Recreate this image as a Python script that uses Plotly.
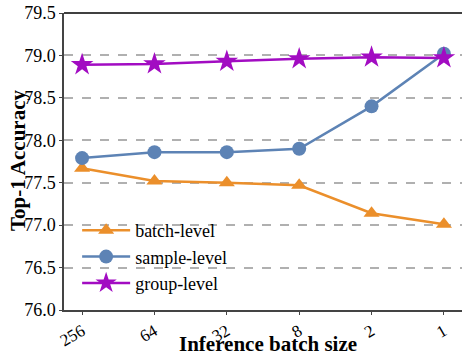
import plotly.graph_objects as go

batch_sizes = ["256", "64", "32", "8", "2", "1"]
batch_level = [77.67, 77.52, 77.50, 77.47, 77.14, 77.01]
sample_level = [77.79, 77.86, 77.86, 77.90, 78.40, 79.02]
group_level = [78.89, 78.90, 78.93, 78.96, 78.98, 78.97]

xs = list(range(len(batch_sizes)))
FONT = "Liberation Serif"

fig = go.Figure()
fig.add_trace(go.Scatter(x=xs, y=batch_level, name="batch-level", mode="lines+markers",
                         line=dict(color="#EB8F2B", width=2.5),
                         marker=dict(symbol="triangle-up", size=14, color="#EB8F2B")))
fig.add_trace(go.Scatter(x=xs, y=sample_level, name="sample-level", mode="lines+markers",
                         line=dict(color="#5D83B5", width=2.5),
                         marker=dict(symbol="circle", size=14, color="#5D83B5")))
fig.add_trace(go.Scatter(x=xs, y=group_level, name="group-level", mode="lines+markers",
                         line=dict(color="#A20CC2", width=2.5),
                         marker=dict(symbol="star", size=17, color="#A20CC2")))

W, H = 462, 358
L, R, T, B = 64, 0, 13, 48
ph = H - T - B

fig.update_layout(
    width=W, height=H,
    margin=dict(l=L, r=R, t=T, b=B, autoexpand=False),
    plot_bgcolor="white", paper_bgcolor="white",
    font=dict(family=FONT, size=17, color="black"),
    showlegend=True,
    legend=dict(x=0.033, y=0.33, xanchor="left", yanchor="top",
                bgcolor="rgba(0,0,0,0)", font=dict(size=18, family=FONT),
                itemwidth=48, tracegroupgap=0),
    xaxis=dict(
        tickmode="array", tickvals=xs, ticktext=batch_sizes,
        range=[-0.25, 5.25], showgrid=False, zeroline=False,
        showline=True, linecolor="#444", linewidth=1.5,
        ticks="outside", ticklen=3, tickcolor="#444",
        tickangle=-30, tickfont=dict(size=17, family=FONT), automargin=False,
    ),
    yaxis=dict(
        range=[76.0, 79.5], dtick=0.5, tickformat=".1f",
        showgrid=True, gridcolor="#b0b0b0", griddash="dash", gridwidth=1.5,
        zeroline=False, showline=True, linecolor="#444", linewidth=1.5,
        ticks="outside", ticklen=3, tickcolor="#444",
        tickfont=dict(size=18, family=FONT), automargin=False,
    ),
    annotations=[
        dict(text="<b>Inference batch size</b>", xref="paper", yref="paper",
             x=(268 - L) / (W - L - R), y=-(357 - (H - B)) / ph, xanchor="center", yanchor="bottom",
             showarrow=False, font=dict(size=21, family=FONT), borderpad=0),
        dict(text="<b>Top-1 Accuracy</b>", xref="paper", yref="paper",
             x=-(L - 18) / (W - L - R), y=(H - B - 161) / ph, xanchor="center", yanchor="middle",
             textangle=-90, showarrow=False, font=dict(size=21, family=FONT)),
    ],
)
fig.add_shape(type="line", xref="paper", yref="paper", x0=0, x1=1, y0=1, y1=1,
              line=dict(color="black", width=1.5))

fig.write_html("out.html", config={"displayModeBar": False},
               post_script="document.body.style.margin='0';document.body.style.overflow='hidden';")
